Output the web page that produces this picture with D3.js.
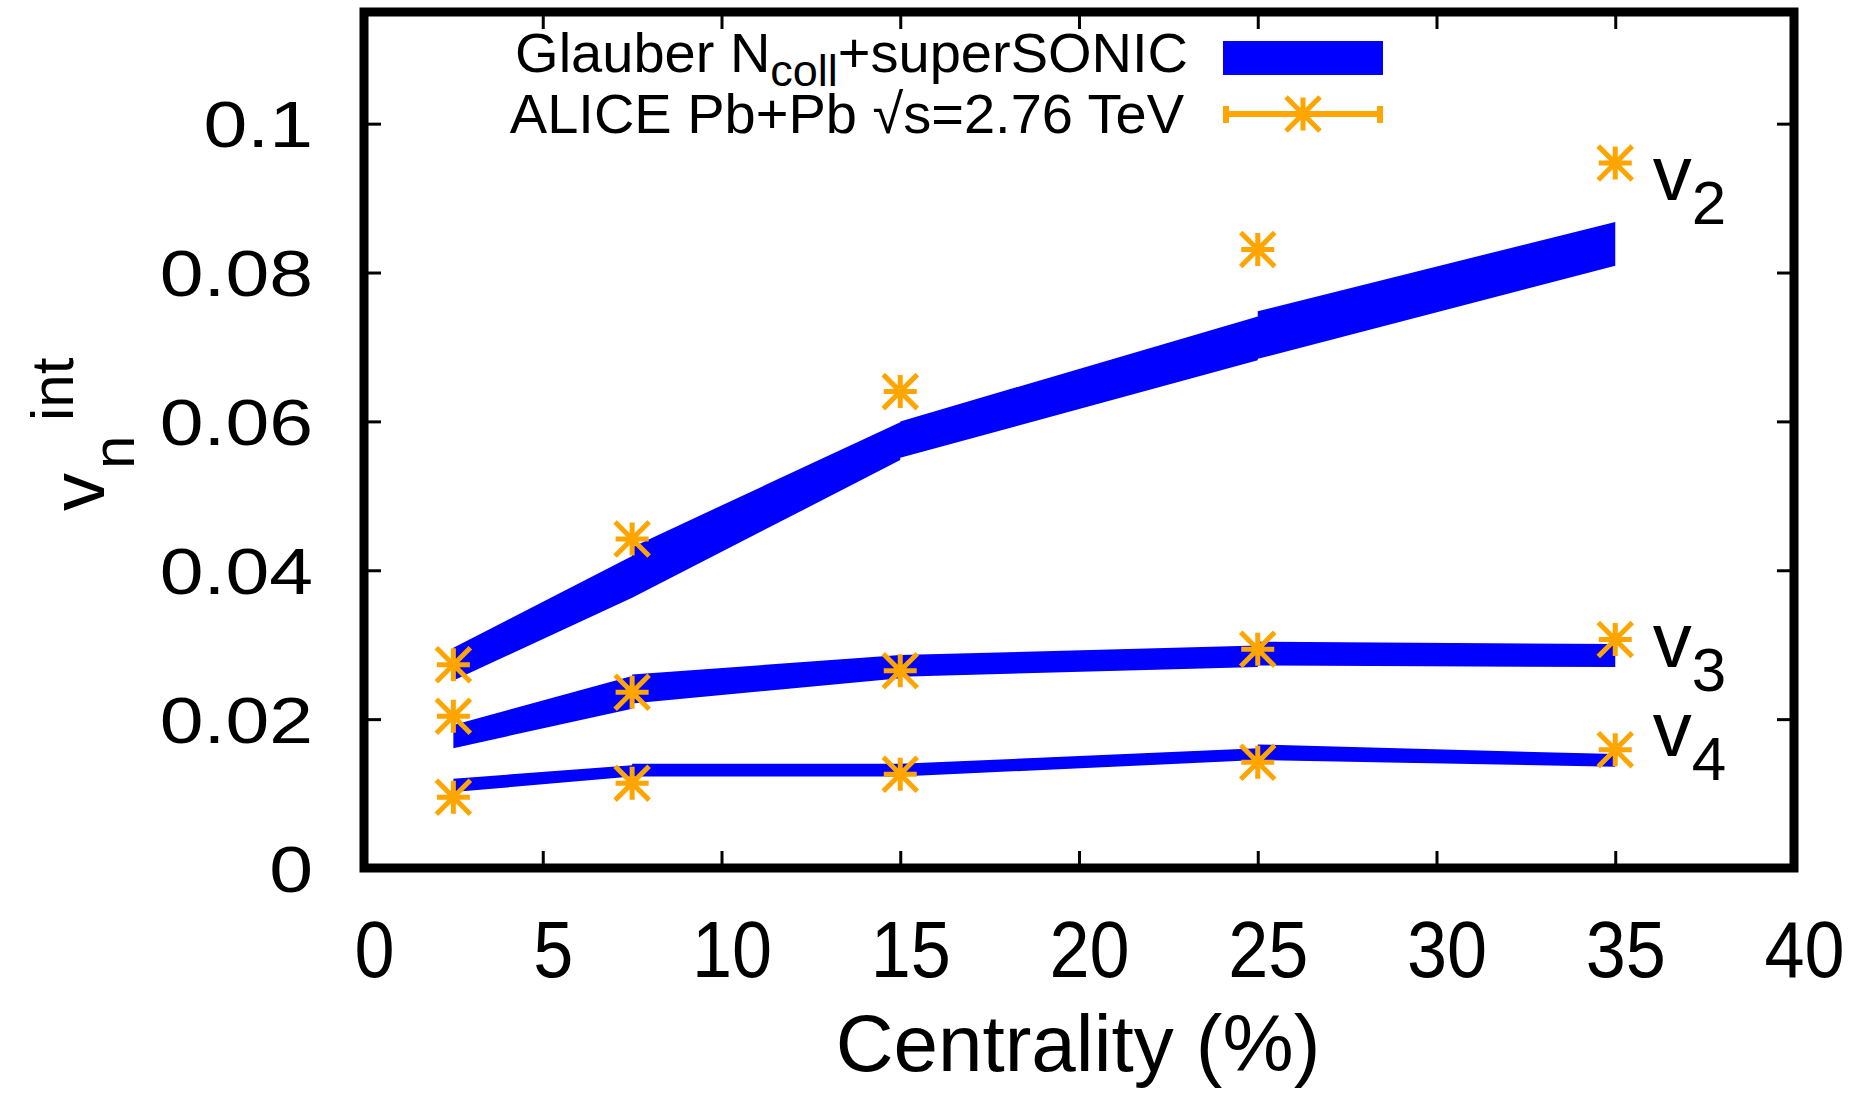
<!DOCTYPE html>
<html>
<head>
<meta charset="utf-8">
<script src="https://cdn.jsdelivr.net/npm/d3@7"></script>
<style>
  html, body { margin: 0; padding: 0; background: #fff; }
  svg { display: block; font-family: "Liberation Sans", Arial, Helvetica, sans-serif; }
</style>
</head>
<body>
<svg id="chart" width="1854" height="1115"></svg>
<script>
// ── data ──
const centrality = [2.5, 7.5, 15, 25, 35];

const aliceV2 = [0.0273, 0.0442, 0.0640, 0.0831, 0.0947];
const aliceV3 = [0.0204, 0.0236, 0.0265, 0.0294, 0.0307];
const aliceV4 = [0.0095, 0.0114, 0.0126, 0.0142, 0.0159];

// band drawn piecewise: each segment has its own ends, so nodes repeat
const bandX = [2.5, 7.5, 7.5, 15, 15, 25, 25, 35];
const sonicV2Lo = [0.0252, 0.0363, 0.0363, 0.0548, 0.0551, 0.0682, 0.0684, 0.0809];
const sonicV2Hi = [0.0296, 0.0419, 0.0431, 0.0599, 0.0600, 0.0741, 0.0748, 0.0868];
const sonicV3Lo = [0.0161, 0.0214, 0.0221, 0.0255, 0.0257, 0.0270, 0.0272, 0.0270];
const sonicV3Hi = [0.0192, 0.0258, 0.0260, 0.0286, 0.0286, 0.0299, 0.0304, 0.0301];
const sonicV4Lo = [0.0102, 0.0123, 0.0123, 0.0123, 0.0123, 0.0145, 0.0145, 0.0136];
const sonicV4Hi = [0.0120, 0.0138, 0.0140, 0.0140, 0.0140, 0.0161, 0.0166, 0.0153];

const harmonicNames = ['2', '3', '4'];
const harmonicLabelY = [0.0898, 0.0270, 0.0150];

const xTicks = [0, 5, 10, 15, 20, 25, 30, 35, 40];
const yTicks = [0, 0.02, 0.04, 0.06, 0.08, 0.1];
const yTickLabels = ['0', '0.02', '0.04', '0.06', '0.08', '0.1'];

const BLUE = '#0000FF', ORANGE = '#FFA500';

// ── frame ──
const L = 364, R = 1794, T = 12, B = 868;
const x = d3.scaleLinear([0, 40], [L, R]);
const y = d3.scaleLinear([0, 0.115], [B, T]);

const svg = d3.select('#chart');

// bands
const bands = [
  [sonicV2Lo, sonicV2Hi],
  [sonicV3Lo, sonicV3Hi],
  [sonicV4Lo, sonicV4Hi],
];
const area = d3.area()
  .x(d => x(d.x)).y0(d => y(d.lo)).y1(d => y(d.hi));

bands.forEach(([lo, hi]) => {
  const pts = bandX.map((bx, i) => ({ x: bx, lo: lo[i], hi: hi[i] }));
  svg.append('path').attr('d', area(pts)).attr('fill', BLUE);
});

// asterisk marker (plus + cross)
function star(g, cx, cy, s) {
  const a = s, b = s * 1.03;
  g.append('path')
    .attr('d', `M${cx - a},${cy}H${cx + a}M${cx},${cy - a}V${cy + a}` +
               `M${cx - b},${cy - b}L${cx + b},${cy + b}M${cx - b},${cy + b}L${cx + b},${cy - b}`)
    .attr('stroke', ORANGE).attr('stroke-width', 5).attr('fill', 'none');
}

const pts = svg.append('g');
[aliceV2, aliceV3, aliceV4].forEach(series => {
  series.forEach((v, i) => star(pts, x(centrality[i]), y(v), 16.5));
});

// harmonic labels at right
harmonicNames.forEach((n, i) => {
  const t = svg.append('text')
    .attr('x', x(36.05)).attr('y', y(harmonicLabelY[i]))
    .attr('font-size', 78).attr('fill', '#000');
  t.append('tspan').text('v');
  t.append('tspan').attr('font-size', 62).attr('dy', 24).text(n);
});

// ── axes (ticks mirrored on all sides) ──
const tickLen = 17;
const gx = svg.append('g').attr('transform', `translate(0,${B})`)
  .call(d3.axisBottom(x).tickValues(xTicks).tickSizeInner(-tickLen).tickSizeOuter(0).tickPadding(0));
const gxTop = svg.append('g').attr('transform', `translate(0,${T})`)
  .call(d3.axisTop(x).tickValues(xTicks).tickSizeInner(-tickLen).tickSizeOuter(0).tickFormat(''));
const gy = svg.append('g').attr('transform', `translate(${L},0)`)
  .call(d3.axisLeft(y).tickValues(yTicks).tickSizeInner(-tickLen).tickSizeOuter(0).tickPadding(0)
    .tickFormat((d, i) => yTickLabels[i]));
const gyRight = svg.append('g').attr('transform', `translate(${R},0)`)
  .call(d3.axisRight(y).tickValues(yTicks).tickSizeInner(-tickLen).tickSizeOuter(0).tickFormat(''));

[gx, gxTop, gy, gyRight].forEach(g => {
  g.select('.domain').remove();
  g.selectAll('.tick line').attr('stroke', '#000').attr('stroke-width', 3);
});

gx.selectAll('.tick text')
  .attr('font-family', null).attr('font-size', null)
  .attr('y', null).attr('dy', null)
  .attr('transform', 'translate(10,109) scale(0.9,1)')
  .style('font-size', '80px').attr('fill', '#000');

gy.selectAll('.tick text')
  .attr('font-family', null).attr('font-size', null)
  .attr('x', null).attr('dy', null)
  .attr('text-anchor', 'end')
  .attr('transform', 'translate(-51,23) scale(1.23,1)')
  .style('font-size', '64px').attr('fill', '#000');

// frame
svg.append('rect')
  .attr('x', L).attr('y', T).attr('width', R - L).attr('height', B - T)
  .attr('fill', 'none').attr('stroke', '#000').attr('stroke-width', 9);

// ── axis titles ──
svg.append('text')
  .attr('x', 1078).attr('y', 1071).attr('text-anchor', 'middle')
  .attr('font-size', 80).text('Centrality (%)');

const yt = svg.append('g').attr('transform', 'translate(104,511) rotate(-90)');
yt.append('text').attr('x', 0).attr('y', 0).attr('font-size', 76).text('v');
yt.append('text').attr('x', 42).attr('y', 30).attr('font-size', 60).text('n');
yt.append('text').attr('x', 90).attr('y', -31).attr('font-size', 60).text('int');

// ── legend ──
const lg = svg.append('g');
const l1 = lg.append('text').attr('x', 1188).attr('y', 72)
  .attr('text-anchor', 'end').attr('font-size', 56);
l1.append('tspan').text('Glauber N');
l1.append('tspan').attr('font-size', 45).attr('dy', 14).text('coll');
l1.append('tspan').attr('dy', -14).text('+superSONIC');

lg.append('text').attr('x', 1184).attr('y', 133)
  .attr('text-anchor', 'end').attr('font-size', 56)
  .text('ALICE Pb+Pb √s=2.76 TeV');

lg.append('rect').attr('x', 1223).attr('y', 41).attr('width', 160).attr('height', 34).attr('fill', BLUE);

lg.append('path')
  .attr('d', 'M1226,114H1380M1226,106V123M1380,106V123')
  .attr('stroke', ORANGE).attr('stroke-width', 6).attr('fill', 'none');
star(lg, 1303, 114, 16.5);
</script>
</body>
</html>
